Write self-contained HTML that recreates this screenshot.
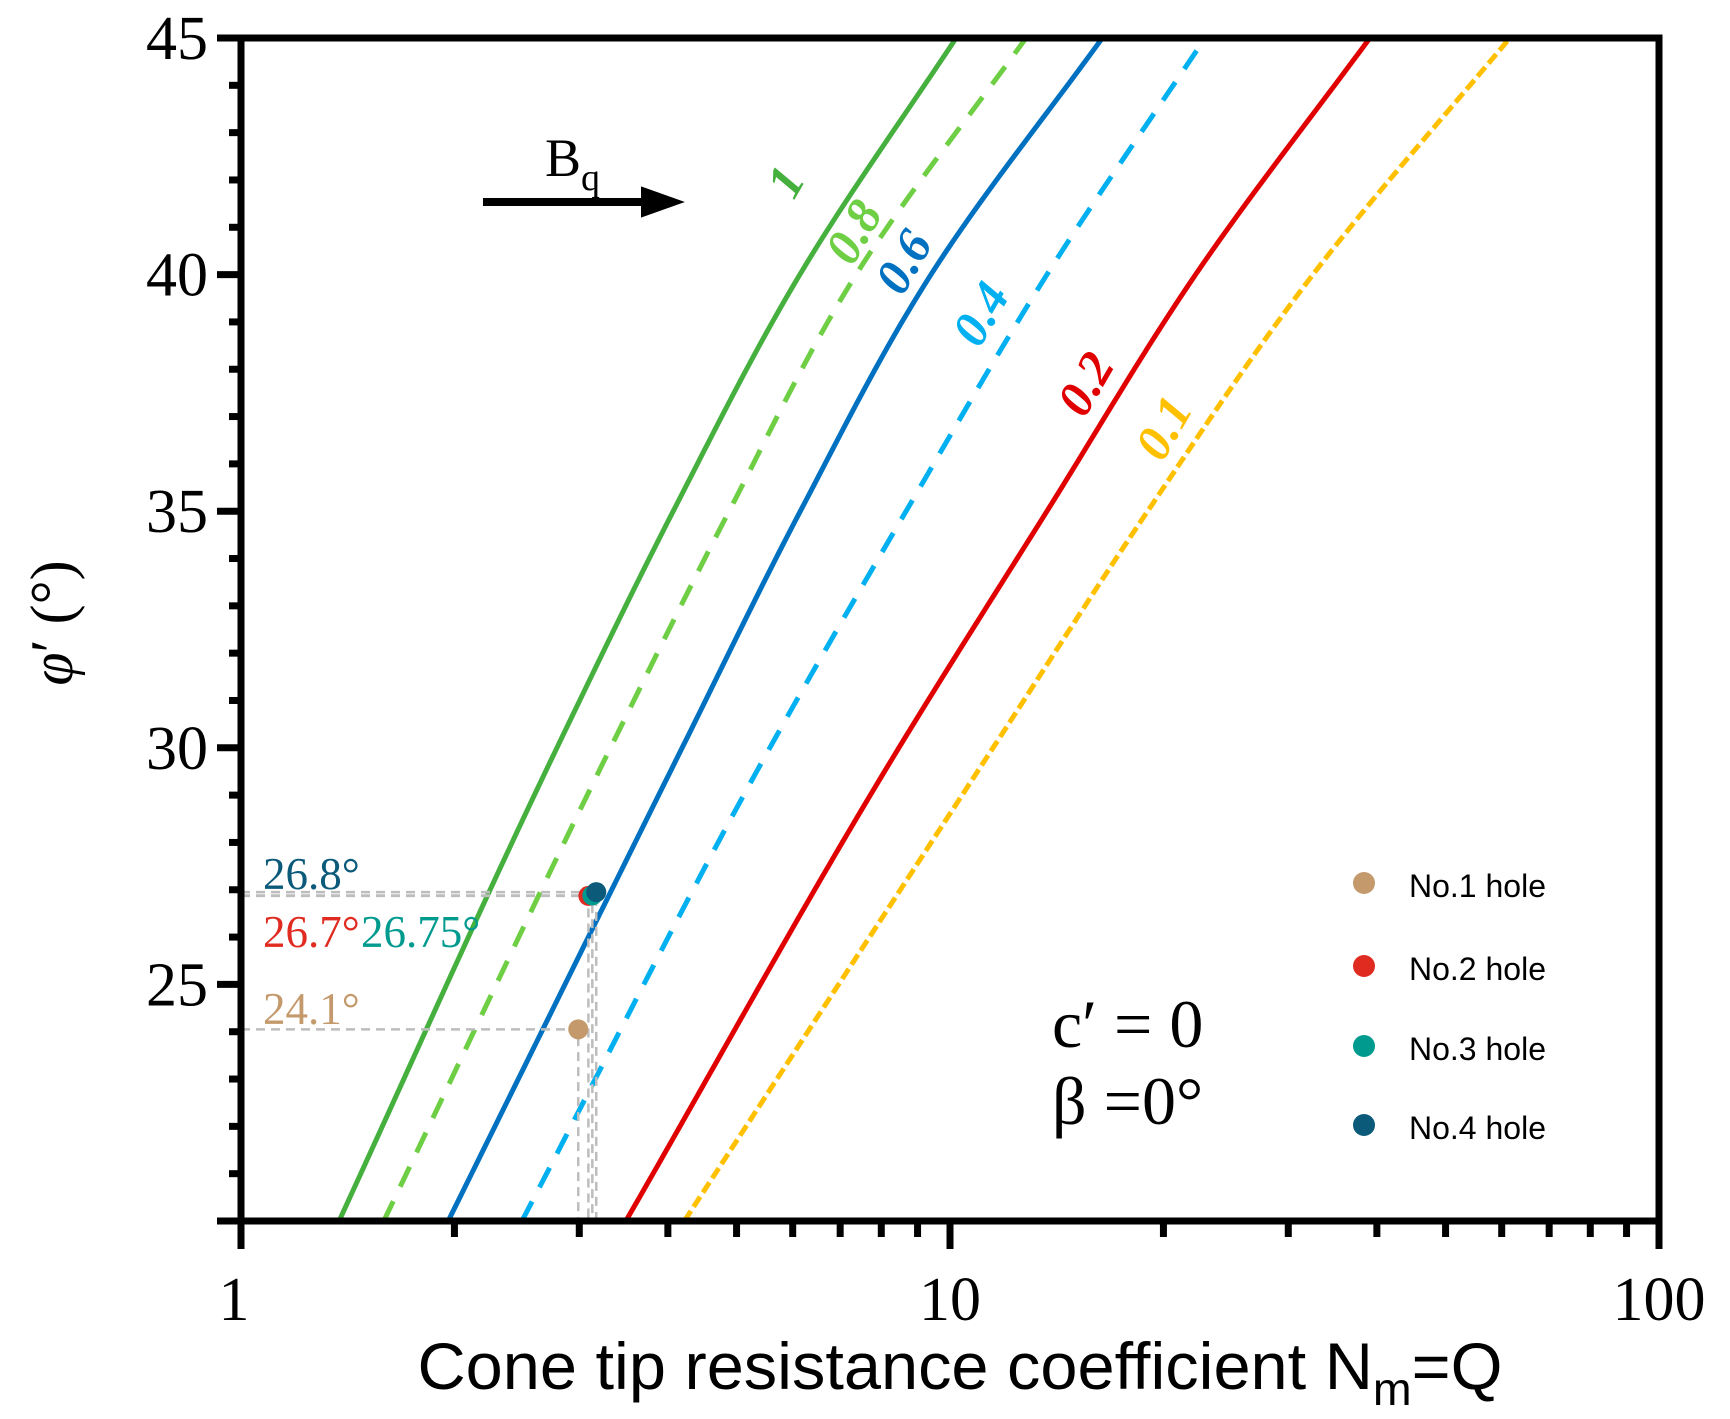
<!DOCTYPE html>
<html><head><meta charset="utf-8"><style>
html,body{margin:0;padding:0;background:#fff;}
svg{display:block;}
</style></head><body>
<svg id="chart" width="1730" height="1419" viewBox="0 0 1730 1419" xmlns="http://www.w3.org/2000/svg"></svg>
<script>
const phiLevels = [20, 30, 35, 40, 45];
const seriesNames = ["1", "0.8", "0.6", "0.4", "0.2", "0.1"];
const nBq1 = [1.375, 2.79, 4.07, 6.14, 10.2];
const nBq08 = [1.59, 3.32, 4.88, 7.37, 12.8];
const nBq06 = [1.96, 4.19, 6.15, 9.4, 16.4];
const nBq04 = [2.49, 5.57, 8.67, 13.7, 22.9];
const nBq02 = [3.49, 8.47, 13.7, 22.2, 39.1];
const nBq01 = [4.22, 11.5, 19.0, 32.5, 61.6];
const holeNames = ["No.1 hole", "No.2 hole", "No.3 hole", "No.4 hole"];
const holeN = [2.99, 3.09, 3.13, 3.17];
const holePhi = [24.05, 26.87, 26.88, 26.95];
const holeLabels = ["24.1°", "26.7°", "26.75°", "26.8°"];
const yTicks = [20, 25, 30, 35, 40, 45];
const yTickLabels = ["", "25", "30", "35", "40", "45"];
const xTicks = [1, 10, 100];
const xTickLabels = ["1", "10", "100"];

const NS = "http://www.w3.org/2000/svg";
const svg = document.getElementById('chart');
const X0 = 241, X1 = 1659, Y0 = 1221, Y1 = 38;
function xs(v){ return X0 + Math.log10(v) / 2 * (X1 - X0); }
function ys(v){ return Y0 - (v - 20) / 25 * (Y0 - Y1); }
function mk(tag, attrs, parent){
  const e = document.createElementNS(NS, tag);
  for (const k in attrs) e.setAttribute(k, attrs[k]);
  (parent || svg).appendChild(e);
  return e;
}
function interp(xsArr, ysArr, t){
  const n = xsArr.length;
  let k = 0;
  while (k < n - 2 && t > xsArr[k + 1]) k++;
  const h = [], d = [];
  for (let i = 0; i < n - 1; i++){ h.push(xsArr[i+1]-xsArr[i]); d.push((ysArr[i+1]-ysArr[i])/h[i]); }
  const m = [];
  for (let i = 0; i < n; i++){
    if (i === 0) m.push(d[0]);
    else if (i === n - 1) m.push(d[n-2]);
    else m.push((d[i-1]*h[i] + d[i]*h[i-1])/(h[i-1]+h[i]));
  }
  const s = (t - xsArr[k]) / h[k];
  const h00 = 2*s*s*s - 3*s*s + 1, h10 = s*s*s - 2*s*s + s, h01 = -2*s*s*s + 3*s*s, h11 = s*s*s - s*s;
  return h00*ysArr[k] + h10*h[k]*m[k] + h01*ysArr[k+1] + h11*h[k]*m[k+1];
}
const defs = mk('defs', {});
const cp = mk('clipPath', {id: 'plotclip'}, defs);
mk('rect', {x: X0, y: Y1, width: X1 - X0, height: Y0 - Y1}, cp);

const styles = [
  {d: nBq1, c: '#46b03f', dash: ''},
  {d: nBq08, c: '#6fcf44', dash: '22 16'},
  {d: nBq06, c: '#0070c0', dash: ''},
  {d: nBq04, c: '#00b0f0', dash: '22 16'},
  {d: nBq02, c: '#e00000', dash: ''},
  {d: nBq01, c: '#ffc000', dash: '12 5'}
];
const gCurves = mk('g', {'clip-path': 'url(#plotclip)'});


styles.forEach((s, i) => {
  const logs = s.d.map(v => Math.log10(v));
  let d = '';
  for (let t = 20; t <= 45.001; t += 0.25) {
    const lx = interp(phiLevels, logs, t);
    d += (d ? ' L' : 'M') + xs(Math.pow(10, lx)).toFixed(2) + ',' + ys(t).toFixed(2);
  }
  const p = mk('path', {d: d, fill: 'none', stroke: s.c, 'stroke-width': 5, 'stroke-dasharray': s.dash}, gCurves);
  
  
});

const lblPos = [[800,190],[868,240],[918,270],[995,322],[1100,392],[1178,436]];
const lblCol = ['#46b03f','#6fcf44','#0070c0','#00b0f0','#e00000','#ffc000'];
seriesNames.forEach((t, i) => {
  const e = mk('text', {x: lblPos[i][0], y: lblPos[i][1], fill: lblCol[i], 'font-family': 'Liberation Serif, serif', 'font-style': 'italic', 'font-weight': 'bold', 'font-size': 50, 'text-anchor': 'middle', transform: 'rotate(-60 ' + lblPos[i][0] + ' ' + lblPos[i][1] + ')'});
  e.textContent = t;
  
  
});

const holeCol = ['#c49a6c', '#e02b20', '#009a8e', '#0b5a7a'];
holeN.forEach((n, i) => {
  const x = xs(n), y = ys(holePhi[i]);
  const l = mk('path', {d: 'M' + X0 + ',' + y + ' H' + x + ' V' + Y0, fill: 'none', stroke: '#bdbdbd', 'stroke-width': 2.5, 'stroke-dasharray': '9 6'});
  
  
});
holeN.forEach((n, i) => {
  const c = mk('circle', {cx: xs(n), cy: ys(holePhi[i]), r: 10, fill: holeCol[i]});
  
  
});
const annPos = [[263,1024],[263,947],[361,947],[263,889]];
holeLabels.forEach((t, i) => {
  const e = mk('text', {x: annPos[i][0], y: annPos[i][1], fill: holeCol[i], 'font-family': 'Liberation Serif, serif', 'font-size': 45});
  e.textContent = t;
  
  
});

const ax = mk('rect', {x: X0, y: Y1, width: X1 - X0, height: Y0 - Y1, fill: 'none', stroke: '#000', 'stroke-width': 7});


for (let v = 20; v <= 45; v++) {
  const major = v % 5 === 0;
  const t = mk('line', {x1: X0 - (major ? 24 : 12), x2: X0, y1: ys(v), y2: ys(v), stroke: '#000', 'stroke-width': 7});
  
  
}
yTicks.forEach((v, i) => {
  const e = mk('text', {x: 208, y: ys(v) + 21, 'text-anchor': 'end', 'font-family': 'Liberation Serif, serif', 'font-size': 62});
  e.textContent = yTickLabels[i];
  
  
});
for (let dec = 1; dec <= 10; dec *= 10) {
  for (let m = 1; m <= 10; m++) {
    const v = dec * m;
    if (v > 100) continue;
    const major = (m === 1 || m === 10);
    const t = mk('line', {x1: xs(v), x2: xs(v), y1: Y0, y2: Y0 + (major ? 28 : 16), stroke: '#000', 'stroke-width': 7});
    
    
  }
}
xTicks.forEach((v, i) => {
  const e = mk('text', {x: xs(v) + (i === 0 ? -7 : 0), y: 1320, 'text-anchor': 'middle', 'font-family': 'Liberation Serif, serif', 'font-size': 62});
  e.textContent = xTickLabels[i];
  
  
});

const xt = mk('text', {x: 960, y: 1389, 'text-anchor': 'middle', 'font-family': 'Liberation Sans, sans-serif', 'font-size': 66, 'textLength': 1085, 'lengthAdjust': 'spacingAndGlyphs'});
xt.innerHTML = 'Cone tip resistance coefficient N<tspan font-size="46" dy="16">m</tspan><tspan dy="-16">=Q</tspan>';


const yt = mk('text', {x: 72, y: 623, 'text-anchor': 'middle', 'font-family': 'Liberation Serif, serif', 'font-size': 60, transform: 'rotate(-90 72 623)'});
yt.innerHTML = '<tspan font-style="italic">φ</tspan>′ (°)';



const bq = mk('text', {x: 545, y: 176, 'font-family': 'Liberation Serif, serif', 'font-size': 54});
bq.innerHTML = 'B<tspan font-size="38" dy="14">q</tspan>';


const ar = mk('path', {d: 'M483,202 H645 M645,192 L673,202 L645,212 Z', stroke: '#000', 'stroke-width': 8, fill: '#000'});



const c1 = mk('text', {x: 1052, y: 1047, 'font-family': 'Liberation Serif, serif', 'font-size': 68});
c1.textContent = 'c′ = 0';


const c2 = mk('text', {x: 1052, y: 1124, 'font-family': 'Liberation Serif, serif', 'font-size': 68});
c2.textContent = 'β =0°';



const legY = [883, 966, 1046, 1125];
holeNames.forEach((t, i) => {
  const g = mk('g', {});
  
  
  mk('circle', {cx: 1364, cy: legY[i], r: 11, fill: holeCol[i]}, g);
  const e = mk('text', {x: 1409, y: legY[i] + 14, 'font-family': 'Liberation Sans, sans-serif', 'font-size': 32}, g);
  e.textContent = t;
});
</script>
</body></html>
